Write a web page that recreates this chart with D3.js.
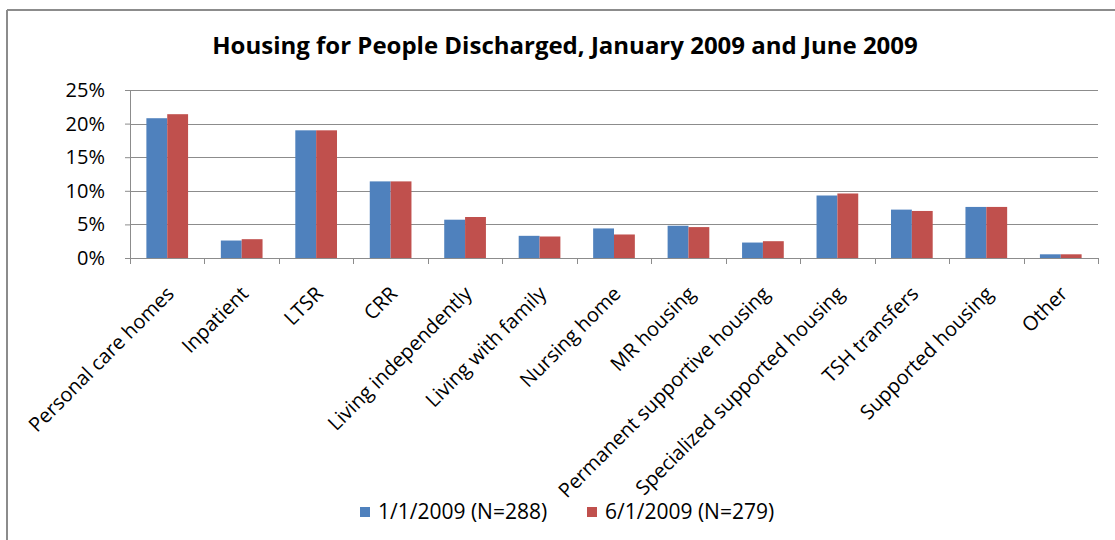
<!DOCTYPE html>
<html>
<head>
<meta charset="utf-8">
<script src="https://cdn.jsdelivr.net/npm/d3@7"></script>
<style>
  body { margin: 0; background: #fff; }
  text { font-family: "Open Sans", "Liberation Sans", sans-serif; fill: #000; }
</style>
</head>
<body>
<svg width="1115" height="540"></svg>
<script>
// chart data
var categories = ["Personal care homes", "Inpatient", "LTSR", "CRR", "Living independently",
  "Living with family", "Nursing home", "MR housing", "Permanent supportive housing",
  "Specialized supported housing", "TSH transfers", "Supported housing", "Other"];
var seriesNames = ["1/1/2009 (N=288)", "6/1/2009 (N=279)"];
var jan2009 = [20.8, 2.6, 19.0, 11.4, 5.7, 3.3, 4.4, 4.8, 2.3, 9.3, 7.2, 7.6, 0.55];
var jun2009 = [21.4, 2.8, 19.0, 11.4, 6.1, 3.2, 3.5, 4.6, 2.5, 9.6, 7.0, 7.6, 0.55];
var yTicks = [0, 5, 10, 15, 20, 25];
var colors = ["#4f81bd", "#c0504d"];

(function() {
  var svg = d3.select("svg");

  // outer frame (only top and left edges show)
  svg.append("line").attr("x1", 7).attr("y1", 10).attr("x2", 1115).attr("y2", 10)
    .style("stroke", "#8c8c8c").style("stroke-width", "2px");
  svg.append("line").attr("x1", 7).attr("y1", 10).attr("x2", 7).attr("y2", 540)
    .style("stroke", "#8c8c8c").style("stroke-width", "2px");

  var left = 130, right = 1098, plotTop = 90, bottom = 258;

  var x0 = d3.scaleBand().domain(categories).range([left, right])
    .paddingInner(0.44).paddingOuter(0.22);
  var x1 = d3.scaleBand().domain([0, 1]).range([0, x0.bandwidth()]);
  var y = d3.scaleLinear().domain([0, 25]).range([bottom, plotTop]);

  // gridlines
  svg.append("g").selectAll("line").data(yTicks.slice(1)).enter().append("line")
    .attr("x1", left).attr("x2", right)
    .attr("y1", function(d) { return Math.round(y(d)) + 0.5; })
    .attr("y2", function(d) { return Math.round(y(d)) + 0.5; })
    .style("stroke", "#8c8c8c").style("stroke-width", "1px");

  // bars
  var rows = categories.map(function(c, i) { return { cat: c, vals: [jan2009[i], jun2009[i]] }; });
  var groups = svg.append("g").selectAll("g").data(rows).enter().append("g")
    .attr("transform", function(d) { return "translate(" + x0(d.cat) + ",0)"; });
  groups.selectAll("rect").data(function(d) { return d.vals; }).enter().append("rect")
    .attr("x", function(d, i) { return x1(i); })
    .attr("width", x1.bandwidth())
    .attr("y", function(d) { return y(d); })
    .attr("height", function(d) { return bottom - y(d); })
    .style("fill", function(d, i) { return colors[i]; });

  // y axis
  var yAxis = svg.append("g").attr("transform", "translate(" + left + ",0)")
    .call(d3.axisLeft(y).tickValues(yTicks).tickSize(5).tickPadding(20)
      .tickFormat(function(d) { return d + "%"; }));
  yAxis.select(".domain").attr("d", "M0.5," + plotTop + "V" + bottom).style("stroke", "#8c8c8c");
  yAxis.selectAll(".tick line").style("stroke", "#8c8c8c");
  yAxis.selectAll(".tick text").style("font-family", "Open Sans").style("font-size", "20px").attr("fill", "#000");

  // x axis
  var xAxis = svg.append("g").attr("transform", "translate(0," + bottom + ")");
  xAxis.append("line").attr("x1", left - 5).attr("x2", right).attr("y1", 0.5).attr("y2", 0.5)
    .style("stroke", "#8c8c8c");
  var edges = categories.map(function(c) { return x0(c) - x0.step() * x0.paddingOuter(); });
  edges.push(right);
  xAxis.selectAll(".xtick").data(edges).enter().append("line")
    .attr("class", "xtick")
    .attr("x1", function(d) { return Math.round(d) + 0.5; })
    .attr("x2", function(d) { return Math.round(d) + 0.5; })
    .attr("y1", 0).attr("y2", 6)
    .style("stroke", "#8c8c8c");

  svg.append("g").selectAll("text").data(categories).enter().append("text")
    .attr("transform", function(d) {
      return "translate(" + (x0(d) + x0.bandwidth() / 2 + 3) + "," + (bottom + 32) + ") rotate(-45)";
    })
    .attr("text-anchor", "end")
    .attr("dy", "0.35em")
    .style("font-size", "20px")
    .text(function(d) { return d; });

  // title
  svg.append("text").attr("x", 565).attr("y", 54)
    .attr("text-anchor", "middle")
    .style("font-size", "24px").style("font-weight", "bold")
    .text("Housing for People Discharged, January 2009 and June 2009");

  // legend
  var legendX = [360, 587];
  var legend = svg.append("g").selectAll("g").data(seriesNames).enter().append("g")
    .attr("transform", function(d, i) { return "translate(" + legendX[i] + ",507)"; });
  legend.append("rect").attr("width", 10).attr("height", 10)
    .style("fill", function(d, i) { return colors[i]; });
  legend.append("text").attr("x", 18).attr("y", 12)
    .style("font-size", "21px")
    .text(function(d) { return d; });
})();
</script>
</body>
</html>
